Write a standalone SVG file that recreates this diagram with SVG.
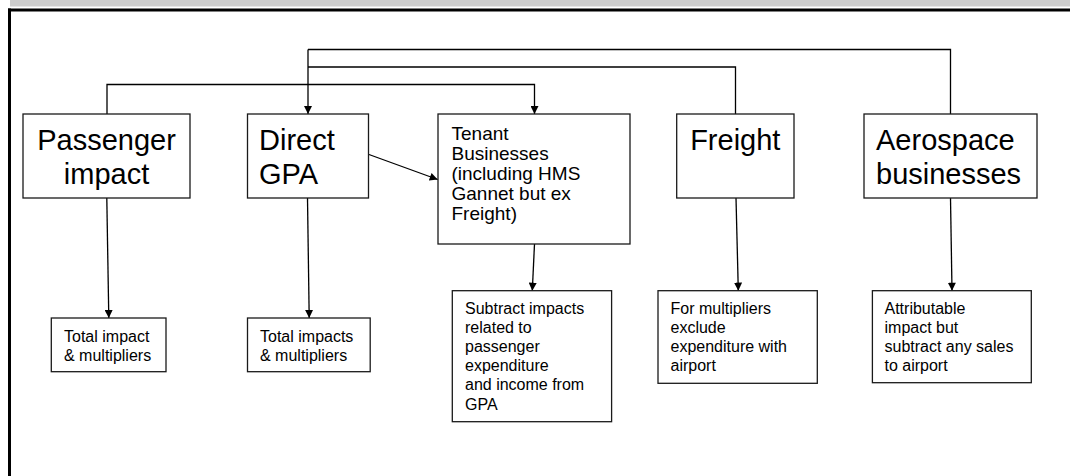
<svg xmlns="http://www.w3.org/2000/svg" width="1070" height="476" viewBox="0 0 1070 476">
<defs>
<marker id="arr" viewBox="0 0 10 10" refX="10" refY="5" markerWidth="8.5" markerHeight="8" markerUnits="userSpaceOnUse" orient="auto">
<path d="M0,0 L10,5 L0,10 Z" fill="#000"/>
</marker>
<style>
.box{fill:#fff;stroke:#1a1a1a;stroke-width:1.3}
.big{font-family:"Liberation Sans",Arial,sans-serif;font-size:29px;fill:#000}
.mid{font-family:"Liberation Sans",Arial,sans-serif;font-size:19px;fill:#000}
.sm{font-family:"Liberation Sans",Arial,sans-serif;font-size:16px;fill:#000}
.c{fill:none;stroke:#000;stroke-width:1.3}
.ca{fill:none;stroke:#000;stroke-width:1.3;marker-end:url(#arr)}
</style>
</defs>
<rect width="1070" height="476" fill="#fff"/>
<g id="frame">
<rect x="10" y="0" width="1060" height="6.5" fill="#cccccc"/>
<line x1="8" y1="10" x2="1070" y2="10" stroke="#000" stroke-width="3"/>
<line x1="9.5" y1="8.5" x2="9.5" y2="476" stroke="#000" stroke-width="3"/>
</g>
<g id="connectors">
<polyline class="c" points="950.5,114 950.5,49.5 308,49.5"/>
<polyline class="c" points="735.5,114 735.5,67 308,67"/>
<polyline class="ca" points="308,49.5 308,114"/>
<polyline class="ca" points="107,114 107,84.5 534.5,84.5 534.5,114"/>
<line class="ca" x1="369" y1="154.5" x2="437.7" y2="179.5"/>
<line class="ca" x1="106.8" y1="198" x2="108.8" y2="318"/>
<line class="ca" x1="307.5" y1="198" x2="309.2" y2="318"/>
<line class="ca" x1="534.5" y1="244" x2="532.3" y2="290.7"/>
<line class="ca" x1="736" y1="198" x2="738.3" y2="290.7"/>
<line class="ca" x1="950.5" y1="198" x2="952" y2="290.7"/>
</g>
<g id="passenger">
<rect class="box" x="23" y="114" width="167" height="84"/>
<text class="big" x="106.5" y="150" text-anchor="middle">Passenger</text>
<text class="big" x="106.5" y="184" text-anchor="middle">impact</text>
</g>
<g id="direct-gpa">
<rect class="box" x="247.5" y="114" width="121" height="84"/>
<text class="big" x="259" y="150">Direct</text>
<text class="big" x="259" y="184">GPA</text>
</g>
<g id="tenant">
<rect class="box" x="438" y="114" width="192" height="130"/>
<text class="mid" x="451.5" y="139.5">Tenant</text>
<text class="mid" x="451.5" y="159.5">Businesses</text>
<text class="mid" x="451.5" y="179.5">(including HMS</text>
<text class="mid" x="451.5" y="199.5">Gannet but ex</text>
<text class="mid" x="451.5" y="219.5">Freight)</text>
</g>
<g id="freight">
<rect class="box" x="676.7" y="114" width="117.3" height="84"/>
<text class="big" x="735.3" y="150" text-anchor="middle">Freight</text>
</g>
<g id="aerospace">
<rect class="box" x="864" y="114" width="173" height="84"/>
<text class="big" x="876" y="150">Aerospace</text>
<text class="big" x="876" y="184">businesses</text>
</g>
<g id="total-impact">
<rect class="box" x="51.3" y="318" width="114.7" height="53.7"/>
<text class="sm" x="64" y="341.5">Total impact</text>
<text class="sm" x="64" y="361">&amp; multipliers</text>
</g>
<g id="total-impacts">
<rect class="box" x="247.5" y="318" width="122.7" height="53.7"/>
<text class="sm" x="260" y="341.5">Total impacts</text>
<text class="sm" x="260" y="361">&amp; multipliers</text>
</g>
<g id="subtract">
<rect class="box" x="452.3" y="290.7" width="159.3" height="131"/>
<text class="sm" x="465" y="313.5">Subtract impacts</text>
<text class="sm" x="465" y="332.7">related to</text>
<text class="sm" x="465" y="351.9">passenger</text>
<text class="sm" x="465" y="371.1">expenditure</text>
<text class="sm" x="465" y="390.3">and income from</text>
<text class="sm" x="465" y="409.5">GPA</text>
</g>
<g id="for-multipliers">
<rect class="box" x="658" y="290.7" width="159.3" height="92.6"/>
<text class="sm" x="670.5" y="313.5">For multipliers</text>
<text class="sm" x="670.5" y="332.7">exclude</text>
<text class="sm" x="670.5" y="351.9">expenditure with</text>
<text class="sm" x="670.5" y="371.1">airport</text>
</g>
<g id="attributable">
<rect class="box" x="872.4" y="290.7" width="158.9" height="92"/>
<text class="sm" x="884.5" y="313.5">Attributable</text>
<text class="sm" x="884.5" y="332.7">impact but</text>
<text class="sm" x="884.5" y="351.9">subtract any sales</text>
<text class="sm" x="884.5" y="371.1">to airport</text>
</g>
</svg>
